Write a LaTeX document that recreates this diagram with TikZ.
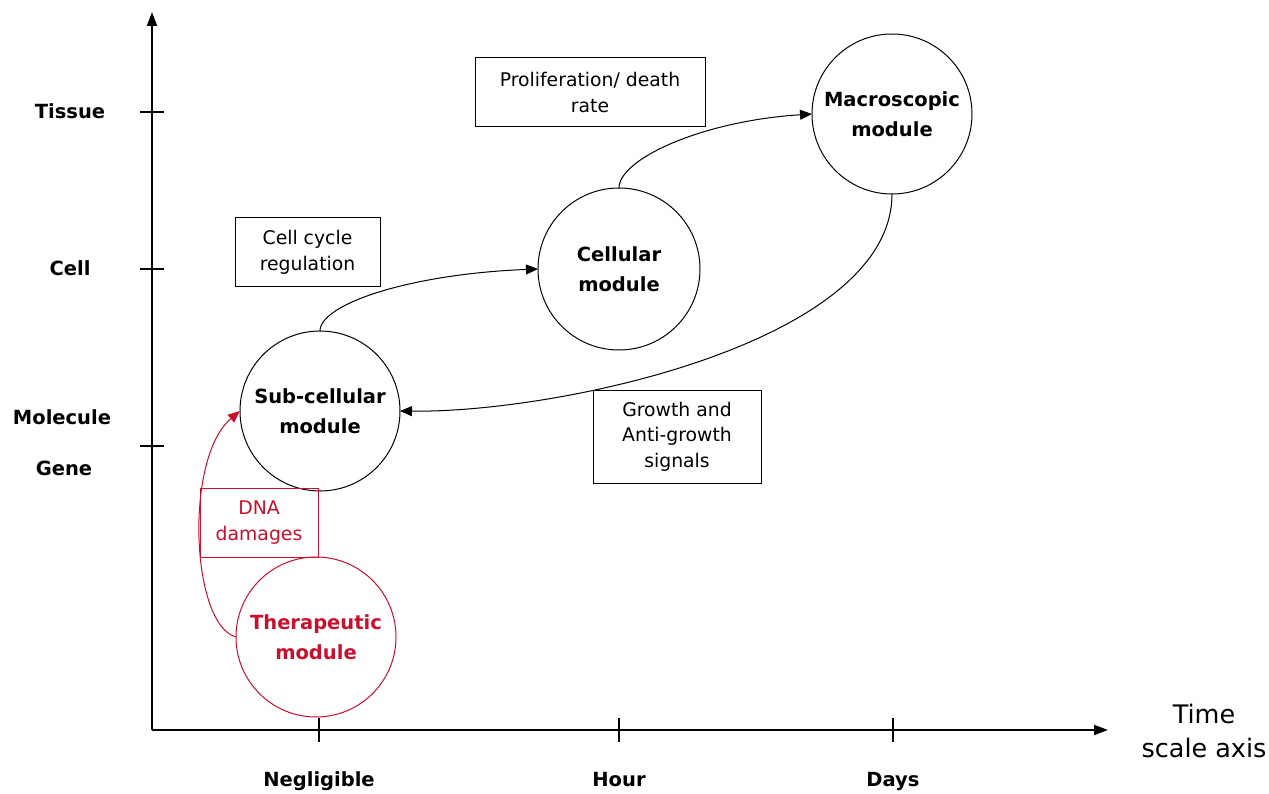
\documentclass[tikz,border=0pt]{standalone}
\usepackage{fontspec}
\setmainfont{DejaVu Sans}
\usetikzlibrary{arrows.meta}
\definecolor{tred}{RGB}{200,16,46}
\begin{document}
\begin{tikzpicture}[x=1pt,y=-1pt,
  module/.style={circle,draw,line width=1pt,minimum size=160pt,inner sep=0pt,outer sep=0pt,
     font=\fontsize{19.5}{30}\selectfont\bfseries,align=center},
  lbl/.style={draw,line width=1pt,font=\fontsize{18.8}{25.5}\selectfont,align=center,inner sep=0pt},
  axlbl/.style={font=\fontsize{19.5}{22}\selectfont\bfseries},
  conn/.style={-{Triangle[length=12pt,width=10pt]},line width=1pt},
  axis/.style={line width=2pt,-{Triangle[length=14pt,width=10pt]}},
  tick/.style={line width=1.2pt},
]
\useasboundingbox (0,0) rectangle (1269,794);
% axes
\coordinate (O) at (152,730);
\coordinate (ytop) at (152,12);
\coordinate (xend) at (1108,730);
\draw[axis] (O) -- (ytop);
\draw[axis] (O) -- (xend);
% y ticks
\foreach \y/\n in {112/t1,269/t2,446/t3}{
  \coordinate (\n a) at (140,\y);
  \coordinate (\n b) at (164,\y);
  \draw[tick] (\n a) -- (\n b);
}
% x ticks
\foreach \x/\n in {319/u1,619/u2,893/u3}{
  \coordinate (\n a) at (\x,718);
  \coordinate (\n b) at (\x,742);
  \draw[tick] (\n a) -- (\n b);
}
% axis labels
\node[axlbl,anchor=base] (tissue) at (70,119) {Tissue};
\node[axlbl,anchor=base] (cellL) at (70,276) {Cell};
\node[axlbl,anchor=base] (molecule) at (62,424) {Molecule};
\node[axlbl,anchor=base] (gene) at (64,475) {Gene};
\node[axlbl,anchor=base] (negl) at (319,786) {Negligible};
\node[axlbl,anchor=base] (hour) at (619,786) {Hour};
\node[axlbl,anchor=base] (days) at (893,786) {Days};
\node[font=\fontsize{25.5}{34}\selectfont,align=center] (time) at (1204,731) {Time\\scale axis};
% modules
\node[module] (sub) at (320,411) {Sub-cellular\\module};
\node[module,minimum size=162pt] (cell) at (619,269) {Cellular\\module};
\node[module] (macro) at (892,114) {Macroscopic\\module};
\node[module,draw=tred,text=tred] (ther) at (316,637) {Therapeutic\\module};
% label boxes
\node[lbl,minimum width=230pt,minimum height=69pt] (prolif) at (590,92.5) {Proliferation/ death\\rate};
\node[lbl,minimum width=145pt,minimum height=69pt] (cycle) at (307.5,252.5) {Cell cycle\\regulation};
\node[lbl,minimum width=168pt,minimum height=93pt] (growth) at (677,436.5) {Growth and\\Anti-growth\\signals};
\node[lbl,draw=tred,text=tred,minimum width=118pt,minimum height=69pt] (dna) at (259,522.5) {DNA\\damages};
% connectors
\draw[conn] (sub.north) .. controls +(0,-27) and +(-128,5) .. (cell.west);
\draw[conn] (cell.north) .. controls +(0,-29) and +(-110,7) .. (macro.west);
\draw[conn] (macro.south) .. controls +(0,148) and +(159,2) .. (sub.east);
\draw[conn,color=tred] (ther.west) .. controls +(-45,-12) and +(-56,47) .. (sub.west);
\end{tikzpicture}
\end{document}
